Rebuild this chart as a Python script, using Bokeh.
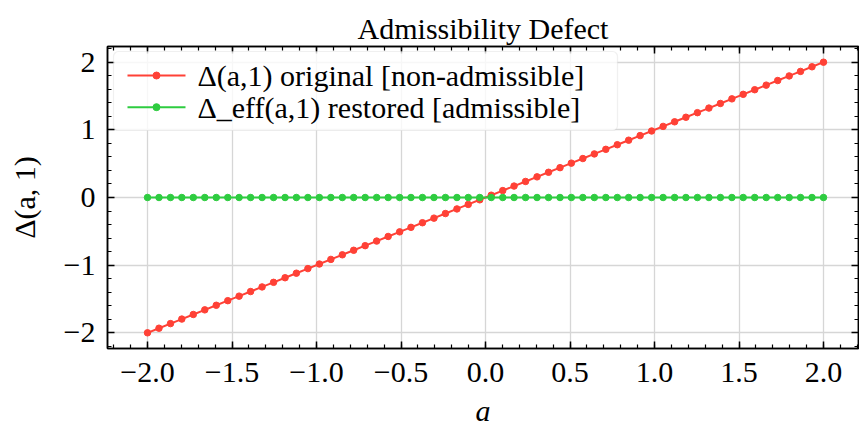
from bokeh.plotting import figure
from bokeh.models import (Range1d, LinearAxis, FixedTicker, CustomJSTickFormatter,
                          BoxAnnotation, Label)
from bokeh.core.properties import value
from bokeh.embed import file_html
from bokeh.resources import INLINE
import numpy as np

# ---------------- data ----------------
a_vals = [-2.000, -1.932, -1.864, -1.797, -1.729, -1.661, -1.593, -1.525, -1.458, -1.390,
          -1.322, -1.254, -1.186, -1.119, -1.051, -0.983, -0.915, -0.847, -0.780, -0.712,
          -0.644, -0.576, -0.508, -0.441, -0.373, -0.305, -0.237, -0.169, -0.102, -0.034,
          0.034, 0.102, 0.169, 0.237, 0.305, 0.373, 0.441, 0.508, 0.576, 0.644,
          0.712, 0.780, 0.847, 0.915, 0.983, 1.051, 1.119, 1.186, 1.254, 1.322,
          1.390, 1.458, 1.525, 1.593, 1.661, 1.729, 1.797, 1.864, 1.932, 2.000]
delta_original = [-2.000, -1.932, -1.864, -1.797, -1.729, -1.661, -1.593, -1.525, -1.458, -1.390,
                  -1.322, -1.254, -1.186, -1.119, -1.051, -0.983, -0.915, -0.847, -0.780, -0.712,
                  -0.644, -0.576, -0.508, -0.441, -0.373, -0.305, -0.237, -0.169, -0.102, -0.034,
                  0.034, 0.102, 0.169, 0.237, 0.305, 0.373, 0.441, 0.508, 0.576, 0.644,
                  0.712, 0.780, 0.847, 0.915, 0.983, 1.051, 1.119, 1.186, 1.254, 1.322,
                  1.390, 1.458, 1.525, 1.593, 1.661, 1.729, 1.797, 1.864, 1.932, 2.000]
delta_restored = [0.0] * 60

x_tick_values = [-2.0, -1.5, -1.0, -0.5, 0.0, 0.5, 1.0, 1.5, 2.0]
y_tick_values = [-2, -1, 0, 1, 2]
title_text = "Admissibility Defect"
x_label = "a"
y_label = "Δ(a, 1)"
series_labels = ["Δ(a,1) original [non-admissible]", "Δ_eff(a,1) restored [admissible]"]
series_colors = ["#FF4136", "#2ECC40"]

# ---------------- styling ----------------
FONT = "Liberation Serif"
FS = "30px"

X0, X1 = -2.2367, 2.2071
Y0, Y1 = -2.232, 2.232

# legend layout (upper-left corner of the frame, in axis units)
LEG_BOX = dict(left=-2.2012, right=0.7811, top=2.158, bottom=0.990)
LEG_ROWS = [1.803, 1.335]
LEG_SAMPLE = [-2.1184, -1.7752]
LEG_MARK = -1.9468
LEG_TEXT = -1.7042


def set_font(model, attr, font):
    """Fonts may be data specs (need value()) or plain strings depending on the model."""
    try:
        setattr(model, attr, value(font))
    except Exception:
        setattr(model, attr, font)


p = figure(frame_width=751, frame_height=302,
           x_range=Range1d(X0, X1), y_range=Range1d(Y0, Y1),
           output_backend="svg", toolbar_location=None,
           min_border_left=107, min_border_top=46, min_border_right=1, min_border_bottom=78,
           background_fill_color="white", border_fill_color="white")
p.outline_line_color = "black"
p.outline_line_width = 1.5

p.title.text = title_text
p.title.text_font = FONT
p.title.text_font_size = FS
p.title.text_font_style = "normal"
p.title.text_color = "black"
p.title.align = "center"
p.title.standoff = 3

x_minor = [round(v, 2) for v in np.arange(-2.2, 2.21, 0.1)]
y_minor = [round(v, 2) for v in np.arange(-2.2, 2.21, 0.2)]
xticker = FixedTicker(ticks=x_tick_values, minor_ticks=x_minor)
yticker = FixedTicker(ticks=y_tick_values, minor_ticks=y_minor)

xfmt = CustomJSTickFormatter(code="const s = Math.abs(tick).toFixed(1); return tick < -1e-9 ? '\u2212' + s : s;")
yfmt = CustomJSTickFormatter(code="const s = Math.abs(tick).toFixed(0); return tick < -1e-9 ? '\u2212' + s : s;")
blank = CustomJSTickFormatter(code="return '';")


def style_axis(ax):
    ax.axis_line_color = "black"
    ax.axis_line_width = 1.5
    ax.major_tick_line_color = "black"
    ax.major_tick_line_width = 1.5
    ax.minor_tick_line_color = "black"
    ax.minor_tick_line_width = 1.2
    ax.major_tick_in = 7
    ax.major_tick_out = 0
    ax.minor_tick_in = 4
    ax.minor_tick_out = 0
    ax.major_label_text_font = FONT
    ax.major_label_text_font_size = FS
    ax.major_label_text_color = "black"
    ax.axis_label_text_font = FONT
    ax.axis_label_text_font_size = FS
    ax.axis_label_text_color = "black"


xa = p.xaxis[0]
xa.ticker = xticker
xa.formatter = xfmt
style_axis(xa)
xa.major_label_standoff = 14
xa.axis_label = x_label
xa.axis_label_text_font_style = "italic"
xa.axis_label_standoff = 9

ya = p.yaxis[0]
ya.ticker = yticker
ya.formatter = yfmt
style_axis(ya)
ya.axis_label = y_label
ya.axis_label_text_font_style = "normal"
ya.major_label_standoff = 12
ya.axis_label_standoff = 20

top_ax = LinearAxis(ticker=xticker, formatter=blank)
right_ax = LinearAxis(ticker=yticker, formatter=blank)
for ax in (top_ax, right_ax):
    style_axis(ax)
    ax.major_label_standoff = 0
p.add_layout(top_ax, "above")
p.add_layout(right_ax, "right")

p.xgrid.ticker = xticker
p.ygrid.ticker = yticker
for g in (p.xgrid, p.ygrid):
    g.grid_line_color = "#d6d6d6"
    g.grid_line_width = 1.3

# ---------------- series ----------------
series = [(delta_original, series_colors[0]), (delta_restored, series_colors[1])]
for vals, col in series:
    p.line(a_vals, vals, line_color=col, line_width=2)
    p.scatter(a_vals, vals, size=6.5, fill_color=col, line_color=col)

# ---------------- legend (box, samples, labels) ----------------
box_kw = dict(fill_color="white", fill_alpha=0.8, line_color="#cccccc", line_width=1.2)
if "border_radius" in BoxAnnotation.properties():
    box_kw["border_radius"] = 5
p.add_layout(BoxAnnotation(**LEG_BOX, **box_kw))
for row_y, (vals, col), lab in zip(LEG_ROWS, series, series_labels):
    p.line(LEG_SAMPLE, [row_y, row_y], line_color=col, line_width=2, level="overlay")
    p.scatter([LEG_MARK], [row_y], size=7, fill_color=col, line_color=col, level="overlay")
    lbl = Label(x=LEG_TEXT, y=row_y, text=lab, text_font_size=FS,
                text_color="black", text_align="left", text_baseline="middle")
    set_font(lbl, "text_font", FONT)
    p.add_layout(lbl)

open("out.html", "w").write(file_html(p, INLINE))
